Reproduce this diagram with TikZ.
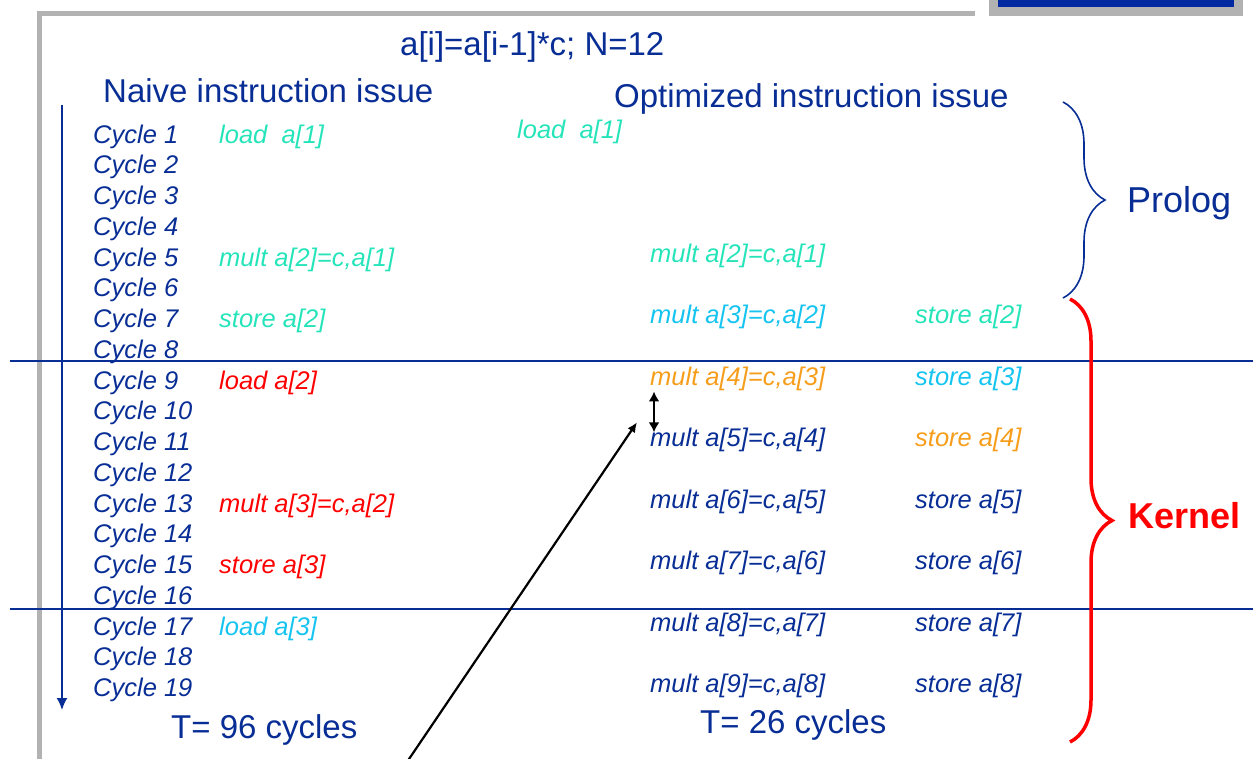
\documentclass[tikz,border=0pt]{standalone}
\usepackage{fontspec}
\setmainfont{Liberation Sans}
\usetikzlibrary{arrows.meta,decorations.pathreplacing}
\definecolor{SlideNavy}{RGB}{8,46,150}
\definecolor{SlideMint}{RGB}{38,228,186}
\definecolor{SlideSky}{RGB}{22,196,240}
\definecolor{SlideOrange}{RGB}{246,158,28}
\definecolor{SlideRed}{RGB}{255,0,0}
\definecolor{SlideGray}{RGB}{178,178,178}
\definecolor{SlideBlue}{RGB}{0,40,160}

\begin{document}
\begin{tikzpicture}[x=1pt, y=-1pt, >=Latex,
  cyc/.style={anchor=base west, inner sep=0pt, text=SlideNavy, font=\fontsize{25.5}{30}\selectfont\itshape},
  ins/.style={anchor=base west, inner sep=0pt, font=\fontsize{25.5}{30}\selectfont\itshape},
  head/.style={anchor=base west, inner sep=0pt, text=SlideNavy, font=\fontsize{33}{40}\selectfont},
  lab/.style={anchor=base west, inner sep=0pt, font=\fontsize{36}{42}\selectfont},
  rule/.style={SlideNavy, line width=1.8pt}]
\useasboundingbox (0,0) rectangle (1253,758);
% slide frame
\draw[SlideGray, line width=5pt] (975,13) -- (39.5,13) -- (39.5,765);
\fill[SlideGray] (989,-5) rectangle (1243,16);
\fill[SlideBlue] (998,-5) rectangle (1234,7);
% titles
\node[head] (title) at (400,55) {a[i]=a[i-1]*c; N=12};
\node[head] (naive) at (103,102) {Naive instruction issue};
\node[head] (opt) at (614,107) {Optimized instruction issue};
% time axis and iteration rules
\draw[rule, -{Latex[length=12pt,width=11pt]}] (62,105) -- (62,710);
\draw[rule] (10,361) -- (1253,361);
\draw[rule] (10,609) -- (1253,609);
% naive schedule
\node[cyc] (c1) at (93,143) {Cycle 1};
\node[cyc] (c2) at (93,173.75) {Cycle 2};
\node[cyc] (c3) at (93,204.5) {Cycle 3};
\node[cyc] (c4) at (93,235.25) {Cycle 4};
\node[cyc] (c5) at (93,266) {Cycle 5};
\node[cyc] (c6) at (93,296.75) {Cycle 6};
\node[cyc] (c7) at (93,327.5) {Cycle 7};
\node[cyc] (c8) at (93,358.25) {Cycle 8};
\node[cyc] (c9) at (93,389) {Cycle 9};
\node[cyc] (c10) at (93,419.75) {Cycle 10};
\node[cyc] (c11) at (93,450.5) {Cycle 11};
\node[cyc] (c12) at (93,481.25) {Cycle 12};
\node[cyc] (c13) at (93,512) {Cycle 13};
\node[cyc] (c14) at (93,542.75) {Cycle 14};
\node[cyc] (c15) at (93,573.5) {Cycle 15};
\node[cyc] (c16) at (93,604.25) {Cycle 16};
\node[cyc] (c17) at (93,635) {Cycle 17};
\node[cyc] (c18) at (93,665.75) {Cycle 18};
\node[cyc] (c19) at (93,696.5) {Cycle 19};
\node[ins, text=SlideMint] (nload1) at (219,143) {load\ \ a[1]};
\node[ins, text=SlideMint] (nmult2) at (219,266) {mult a[2]=c,a[1]};
\node[ins, text=SlideMint] (nstore2) at (219,327.5) {store a[2]};
\node[ins, text=SlideRed] (nload2) at (219,389) {load a[2]};
\node[ins, text=SlideRed] (nmult3) at (219,512) {mult a[3]=c,a[2]};
\node[ins, text=SlideRed] (nstore3) at (219,573.5) {store a[3]};
\node[ins, text=SlideSky] (nload3) at (219,635) {load a[3]};
\node[head] (tnaive) at (171,738) {T= 96 cycles};
% optimized schedule
\node[ins, text=SlideMint] (oload1) at (517,138) {load\ \ a[1]};
\node[ins, text=SlideMint] (m2) at (650,262) {mult a[2]=c,a[1]};
\node[ins, text=SlideSky] (m3) at (650,323) {mult a[3]=c,a[2]};
\node[ins, text=SlideMint] (s2) at (915,323) {store a[2]};
\node[ins, text=SlideOrange] (m4) at (650,385) {mult a[4]=c,a[3]};
\node[ins, text=SlideSky] (s3) at (915,385) {store a[3]};
\node[ins, text=SlideNavy] (m5) at (650,446) {mult a[5]=c,a[4]};
\node[ins, text=SlideOrange] (s4) at (915,446) {store a[4]};
\node[ins, text=SlideNavy] (m6) at (650,508) {mult a[6]=c,a[5]};
\node[ins, text=SlideNavy] (s5) at (915,508) {store a[5]};
\node[ins, text=SlideNavy] (m7) at (650,569) {mult a[7]=c,a[6]};
\node[ins, text=SlideNavy] (s6) at (915,569) {store a[6]};
\node[ins, text=SlideNavy] (m8) at (650,631) {mult a[8]=c,a[7]};
\node[ins, text=SlideNavy] (s7) at (915,631) {store a[7]};
\node[ins, text=SlideNavy] (m9) at (650,692) {mult a[9]=c,a[8]};
\node[ins, text=SlideNavy] (s8) at (915,692) {store a[8]};
\node[head] (topt) at (700,733) {T= 26 cycles};
% prolog / kernel braces
\draw[SlideNavy, line width=1.6pt, decorate, decoration={brace, amplitude=42pt}] (1063,102) -- (1063,298);
\node[lab, text=SlideNavy] (prolog) at (1127,212) {Prolog};
\draw[SlideRed, line width=3.5pt, decorate, decoration={brace, amplitude=42pt}] (1070,299) -- (1070,742);
\node[lab, text=SlideRed, font=\fontsize{36}{42}\selectfont\bfseries] (kernel) at (1128,528) {Kernel};
% latency arrows
\coordinate (tail) at (407,762);
\draw[black, line width=2.2pt, -{Latex[length=10pt,width=9pt]}] (tail) -- ([shift={(-13,-5)}]m5.north west);
\draw[black, line width=2.4pt, {Latex[length=10pt,width=11pt]}-{Latex[length=10pt,width=11pt]}] ([shift={(4,1)}]m4.south west) -- ([shift={(4,5)}]m5.north west);
\end{tikzpicture}
\end{document}
